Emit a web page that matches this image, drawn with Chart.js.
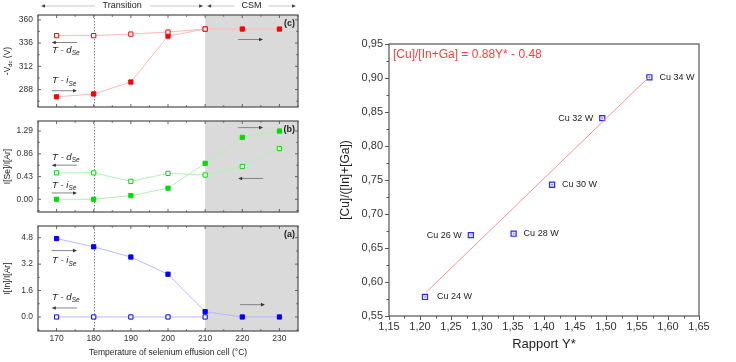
<!DOCTYPE html>
<html><head><meta charset="utf-8">
<script src="https://cdn.jsdelivr.net/npm/chart.js@4.4.1/dist/chart.umd.min.js"></script>
<style>
html,body{margin:0;padding:0;background:#fff;width:736px;height:362px;overflow:hidden}
#wrap{position:relative;width:736px;height:362px}
canvas{position:absolute;left:0;top:0}
</style></head><body>
<div id="wrap">
<canvas id="cC" width="736" height="362"></canvas>
<canvas id="cB" width="736" height="362"></canvas>
<canvas id="cA" width="736" height="362"></canvas>
<canvas id="cR" width="736" height="362"></canvas>
</div>
<script>
// ---- Left figure data ----
const temperatures = [170, 180, 190, 200, 210, 220, 230];
const tempTicks = [170, 180, 190, 200, 210, 220, 230];
const vbias_iSe = [280.5, 283.5, 295.8, 343.2, 350.5, 350.5, 350.5];
const vbias_dSe = [343.7, 343.7, 345.3, 347.4, 350.5];
const vbiasTicks = [288, 312, 336, 360];
const se_iSe = [0.00, 0.00, 0.07, 0.21, 0.68, 1.17, 1.29];
const se_dSe = [0.50, 0.50, 0.34, 0.49, 0.46, 0.62, 0.96];
const seTicks = [0.00, 0.43, 0.86, 1.29];
const in_iSe = [4.75, 4.25, 3.63, 2.59, 0.32, 0.00, 0.00];
const in_dSe = [0.00, 0.00, 0.00, 0.00, 0.00];
const inTicks = [0.0, 1.6, 3.2, 4.8];
const transitionStart = 180;
const csmStart = 210;

// ---- Right figure data ----
const rapportY = [1.208, 1.282, 1.351, 1.413, 1.494, 1.570];
const cuRatio = [0.578, 0.669, 0.671, 0.743, 0.841, 0.901];
const cuPower = ['Cu 24 W', 'Cu 26 W', 'Cu 28 W', 'Cu 30 W', 'Cu 32 W', 'Cu 34 W'];
const fitY = [1.21, 1.57];
const fitRatio = [0.585, 0.902];
const fitLabel = '[Cu]/[In+Ga] = 0.88Y* - 0.48';
const rTicksX = [1.15,1.20,1.25,1.30,1.35,1.40,1.45,1.50,1.55,1.60,1.65];
const rTicksY = [0.55,0.60,0.65,0.70,0.75,0.80,0.85,0.90,0.95];

const FF = '"Liberation Sans", Arial, Helvetica, sans-serif';
function fnt(s, style){ return (style ? style + ' ' : '') + s + 'px ' + FF; }
function pts(xs, ys){ return ys.map((v,i)=>({x: xs[i], y: v})); }

function drawRich(ctx, parts, x, y, fs, style, color, align){
  ctx.fillStyle = color; ctx.textBaseline = 'middle'; ctx.textAlign = 'left';
  let w = 0;
  for (const p of parts){ ctx.font = fnt(p.sub ? fs*0.68 : fs, style); w += ctx.measureText(p.t).width; }
  let cx = align === 'center' ? x - w/2 : x;
  for (const p of parts){
    const s = p.sub ? fs*0.68 : fs;
    ctx.font = fnt(s, style);
    ctx.fillText(p.t, cx, y + (p.sub ? fs*0.32 : 0));
    cx += ctx.measureText(p.t).width;
  }
}
function arrow(ctx, x1, x2, y, lineCol, headCol, lw){
  ctx.save();
  ctx.strokeStyle = lineCol; ctx.lineWidth = lw || 0.9;
  const dir = x2 > x1 ? 1 : -1;
  ctx.beginPath(); ctx.moveTo(x1, y); ctx.lineTo(x2 - dir*3, y); ctx.stroke();
  ctx.fillStyle = headCol;
  ctx.beginPath(); ctx.moveTo(x2, y); ctx.lineTo(x2 - dir*4, y - 1.8); ctx.lineTo(x2 - dir*4, y + 1.8); ctx.closePath(); ctx.fill();
  ctx.restore();
}

const panels = [
  { id:'cC', top:15, bottom:121, min:270, max:365, ticks:vbiasTicks, dec:0,
    filled:vbias_iSe, open:vbias_dSe, col:'#ff0000', line:'#ffb8b8',
    title:[{t:'-V'},{t:'dc',sub:true},{t:' (V)'}], tag:'(c)', showX:false, header:true,
    labels:[{x:168.8, y:328.2, k:'d'}, {x:168.8, y:297, k:'i'}],
    arrows:[{x1:175.5, x2:168.7, y:336.6}, {x1:168.7, x2:175.5, y:286.8}, {x1:218.9, x2:225.6, y:339.7}] },
  { id:'cB', top:121, bottom:226, min:-0.24, max:1.48, ticks:seTicks, dec:2,
    filled:se_iSe, open:se_dSe, col:'#00dd00', line:'#b4f0b4',
    title:[{t:'I[Se]/I[Ar]'}], tag:'(b)', showX:false,
    labels:[{x:168.8, y:0.788, k:'d'}, {x:168.8, y:0.267, k:'i'}],
    arrows:[{x1:175.5, x2:168.7, y:0.645}, {x1:168.7, x2:175.5, y:0.12}, {x1:218.9, x2:225.6, y:1.355}, {x1:225.6, x2:218.9, y:0.394}] },
  { id:'cA', top:226, bottom:331, min:-0.85, max:5.51, ticks:inTicks, dec:1,
    filled:in_iSe, open:in_dSe, col:'#0000ff', line:'#b8b8ff',
    title:[{t:'I[In]/I[Ar]'}], tag:'(a)', showX:true,
    labels:[{x:168.8, y:3.41, k:'i'}, {x:168.8, y:1.19, k:'d'}],
    arrows:[{x1:168.7, x2:175.5, y:4.02}, {x1:175.5, x2:168.7, y:0.545}, {x1:219.4, x2:226.1, y:0.745}] }
];

panels.forEach(P => {
  const deco = {
    id: 'deco' + P.id,
    beforeDatasetsDraw(chart){
      const ctx = chart.ctx, a = chart.chartArea, xs = chart.scales.x;
      ctx.save();
      ctx.fillStyle = '#dadada';
      const xc = xs.getPixelForValue(csmStart);
      ctx.fillRect(xc, a.top, a.right - xc, a.bottom - a.top);
      ctx.strokeStyle = '#8a8a8a'; ctx.lineWidth = 1; ctx.setLineDash([1.5, 1.5]);
      const xt = Math.round(xs.getPixelForValue(transitionStart)) + 0.5;
      ctx.beginPath(); ctx.moveTo(xt, a.top); ctx.lineTo(xt, a.bottom); ctx.stroke();
      ctx.restore();
    },
    afterDraw(chart){
      const ctx = chart.ctx, a = chart.chartArea, xs = chart.scales.x, ys = chart.scales.y;
      ctx.save();
      // frame
      ctx.strokeStyle = '#5a5a5a'; ctx.lineWidth = 1.3;
      ctx.strokeRect(a.left, a.top, a.right - a.left, a.bottom - a.top);
      // inward ticks
      ctx.lineWidth = 0.9; ctx.strokeStyle = '#555';
      ctx.beginPath();
      for (let v = 165; v <= 235; v += 5){
        const x = xs.getPixelForValue(v), L = (v % 10 === 0) ? 3 : 1.8;
        ctx.moveTo(x, a.bottom); ctx.lineTo(x, a.bottom - L);
        ctx.moveTo(x, a.top); ctx.lineTo(x, a.top + L);
      }
      const step = P.ticks[1] - P.ticks[0];
      for (let k = -4; k <= 12; k++){
        const v = P.ticks[0] + k*step/2;
        if (v < P.min || v > P.max) continue;
        const y = ys.getPixelForValue(v), L = (k % 2 === 0) ? 3 : 1.8;
        ctx.moveTo(a.left, y); ctx.lineTo(a.left + L, y);
        ctx.moveTo(a.right, y); ctx.lineTo(a.right - L, y);
      }
      ctx.stroke();
      // panel tag
      ctx.fillStyle = '#222'; ctx.font = fnt(9, 'bold'); ctx.textAlign = 'right'; ctx.textBaseline = 'middle';
      ctx.fillText(P.tag, a.right - 3, a.top + 9);
      // T - i / T - d labels
      P.labels.forEach(L => {
        drawRich(ctx, [{t:'T - ' + L.k}, {t:'Se', sub:true}], xs.getPixelForValue(L.x), ys.getPixelForValue(L.y), 9.5, 'italic', '#222');
      });
      P.arrows.forEach(R => arrow(ctx, xs.getPixelForValue(R.x1), xs.getPixelForValue(R.x2), ys.getPixelForValue(R.y), '#777', '#333'));
      // y title
      ctx.save();
      ctx.translate(8, (a.top + a.bottom)/2); ctx.rotate(-Math.PI/2);
      drawRich(ctx, P.title, 0, 0, 8.5, '', '#222', 'center');
      ctx.restore();
      if (P.showX){
        ctx.fillStyle = '#222'; ctx.font = fnt(8.5); ctx.textAlign = 'center'; ctx.textBaseline = 'middle';
        ctx.fillText('Temperature of selenium effusion cell (°C)', (a.left + a.right)/2, 353);
      }
      if (P.header){
        const hy = 6;
        const xT = xs.getPixelForValue(transitionStart - 10 - 4.2);
        ctx.font = fnt(9); ctx.fillStyle = '#222'; ctx.textAlign = 'center'; ctx.textBaseline = 'middle';
        const xl = a.left + 3, xm = xs.getPixelForValue(csmStart) - 2;
        const xr = a.right - 2, xm2 = xs.getPixelForValue(csmStart) + 2;
        const c1 = (xl + xm)/2, c2 = (xm2 + xr)/2;
        ctx.fillText('Transition', c1, hy);
        ctx.fillText('CSM', c2, hy);
        arrow(ctx, c1 - 27, xl, hy, '#bbb', '#444', 0.8);
        arrow(ctx, c1 + 28, xm, hy, '#bbb', '#444', 0.8);
        arrow(ctx, c2 - 17, xm2, hy, '#bbb', '#444', 0.8);
        arrow(ctx, c2 + 17, xr, hy, '#bbb', '#444', 0.8);
      }
      ctx.restore();
    }
  };
  new Chart(document.getElementById(P.id), {
    type: 'line',
    data: { datasets: [
      { data: pts(temperatures, P.open), borderColor: P.line, borderWidth: 1,
        pointStyle: 'rect', pointRadius: 3, pointBorderColor: P.col, pointBackgroundColor: '#ffffff', pointBorderWidth: 1, tension: 0 },
      { data: pts(temperatures, P.filled), borderColor: P.line, borderWidth: 1,
        pointStyle: 'rect', pointRadius: 3, pointBorderColor: P.col, pointBackgroundColor: P.col, pointBorderWidth: 1, tension: 0 }
    ]},
    options: {
      responsive: false, animation: false, devicePixelRatio: 1,
      layout: { padding: { left: 0, right: 438, top: P.top, bottom: P.showX ? 362 - P.bottom - 14 : 362 - P.bottom } },
      plugins: { legend: { display: false }, tooltip: { enabled: false } },
      scales: {
        x: { type: 'linear', min: 165, max: 235, display: P.showX,
             grid: { display: false, drawTicks: false }, border: { display: false },
             afterBuildTicks: s => { s.ticks = tempTicks.map(v => ({value: v})); },
             afterFit: s => { s.height = 14; },
             ticks: { padding: 3, color: '#333', font: { family: FF, size: 8.5 }, callback: v => String(v) } },
        y: { type: 'linear', min: P.min, max: P.max,
             grid: { display: false, drawTicks: false }, border: { display: false },
             afterBuildTicks: s => { s.ticks = P.ticks.map(v => ({value: v})); },
             afterFit: s => { s.width = 38; },
             ticks: { padding: 5, color: '#333', font: { family: FF, size: 8.5 }, callback: v => Number(v).toFixed(P.dec) } }
      }
    },
    plugins: [deco]
  });
});

// ---- Right chart ----
const labelSide = ['r','l','r','r','l','r'];
const rightDeco = {
  id: 'rightDeco',
  afterDraw(chart){
    const ctx = chart.ctx, a = chart.chartArea, xs = chart.scales.x, ys = chart.scales.y;
    ctx.save();
    ctx.strokeStyle = '#555'; ctx.lineWidth = 1.2;
    ctx.strokeRect(a.left, a.top, a.right - a.left, a.bottom - a.top);
    ctx.lineWidth = 1; ctx.strokeStyle = '#555';
    ctx.beginPath();
    for (let k = 0; k <= 20; k++){
      const v = 1.15 + k*0.025, x = Math.round(xs.getPixelForValue(v)) + 0.5, L = k % 2 === 0 ? 4 : 2.5;
      ctx.moveTo(x, a.bottom); ctx.lineTo(x, a.bottom + L);
    }
    for (let k = 0; k <= 16; k++){
      const v = 0.55 + k*0.025, y = Math.round(ys.getPixelForValue(v)) + 0.5, L = k % 2 === 0 ? 4 : 2.5;
      ctx.moveTo(a.left, y); ctx.lineTo(a.left - L, y);
    }
    ctx.stroke();
    // point labels
    ctx.fillStyle = '#222'; ctx.font = fnt(9); ctx.textBaseline = 'middle';
    cuPower.forEach((t, i) => {
      const x = xs.getPixelForValue(rapportY[i]), y = ys.getPixelForValue(cuRatio[i]);
      if (labelSide[i] === 'r'){ ctx.textAlign = 'left'; ctx.fillText(t, x + (i === 0 ? 12 : 10), y); }
      else { ctx.textAlign = 'right'; ctx.fillText(t, x - 9, y); }
    });
    // fit annotation
    ctx.fillStyle = '#ff3b3b'; ctx.font = fnt(12); ctx.textAlign = 'left';
    ctx.fillText(fitLabel, a.left + 4, a.top + 11);
    // axis titles
    ctx.fillStyle = '#222'; ctx.font = fnt(13); ctx.textAlign = 'center';
    ctx.fillText('Rapport Y*', (a.left + a.right)/2, 344);
    ctx.save(); ctx.translate(346, (a.top + a.bottom)/2); ctx.rotate(-Math.PI/2);
    ctx.font = fnt(12); ctx.fillText('[Cu]/([In]+[Ga])', 0, 0);
    ctx.restore();
    ctx.restore();
  }
};
new Chart(document.getElementById('cR'), {
  type: 'scatter',
  data: { datasets: [
    { type: 'line', data: pts(fitY, fitRatio), borderColor: '#ff9090', borderWidth: 1, pointRadius: 0, tension: 0 },
    { data: pts(rapportY, cuRatio), pointStyle: 'rect', pointRadius: 3.6, pointBorderWidth: 1.2,
      pointBorderColor: '#2a2aff', pointBackgroundColor: 'rgba(170,170,255,0.35)' },
    { data: pts(rapportY, cuRatio), pointStyle: 'rect', pointRadius: 0.9, pointBorderWidth: 0,
      pointBackgroundColor: '#7070ff' }
  ]},
  options: {
    responsive: false, animation: false, devicePixelRatio: 1,
    layout: { padding: { left: 355, right: 37, top: 44, bottom: 26 } },
    plugins: { legend: { display: false }, tooltip: { enabled: false } },
    scales: {
      x: { type: 'linear', min: 1.15, max: 1.65,
           grid: { display: false, drawTicks: false }, border: { display: false },
           afterBuildTicks: s => { s.ticks = rTicksX.map(v => ({value: v})); },
           afterFit: s => { s.height = 20; },
           ticks: { padding: 4, color: '#333', font: { family: FF, size: 11 }, maxRotation: 0, autoSkip: false,
                    callback: v => Number(v).toFixed(2).replace('.', ',') } },
      y: { type: 'linear', min: 0.55, max: 0.95,
           grid: { display: false, drawTicks: false }, border: { display: false },
           afterBuildTicks: s => { s.ticks = rTicksY.map(v => ({value: v})); },
           afterFit: s => { s.width = 34; },
           ticks: { padding: 6, color: '#333', font: { family: FF, size: 11 },
                    callback: v => Number(v).toFixed(2).replace('.', ',') } }
    }
  },
  plugins: [rightDeco]
});
</script>
</body></html>
